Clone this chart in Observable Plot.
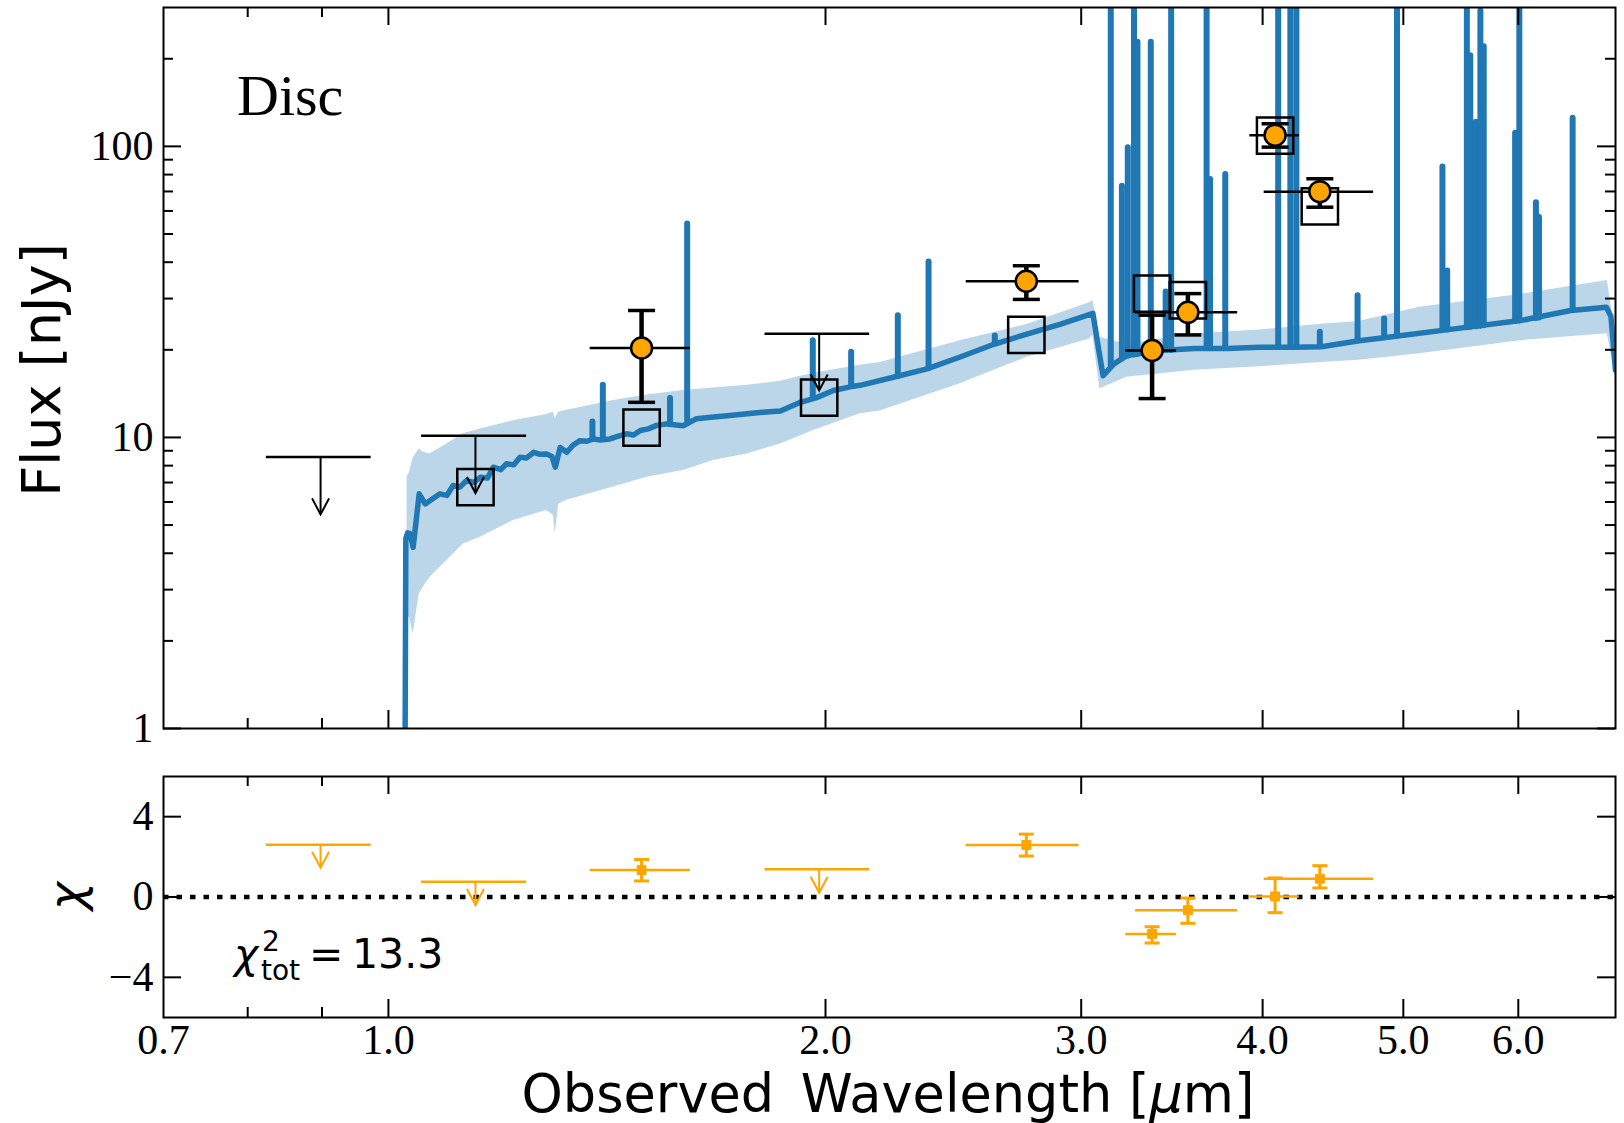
<!DOCTYPE html>
<html>
<head>
<meta charset="utf-8">
<script src="https://cdn.jsdelivr.net/npm/d3@7"></script>
<script src="https://cdn.jsdelivr.net/npm/@observablehq/plot@0.6"></script>
<style>
html, body { margin: 0; padding: 0; background: #fff; }
#wrap { position: relative; width: 1624px; height: 1123px; overflow: hidden; background: #fff; }
#wrap svg { position: absolute; left: 0; max-width: none !important; overflow: visible; }
</style>
</head>
<body>
<div id="wrap"></div>
<script>
// ---------------- DATA ----------------
const filters      = ["F090W", "F115W", "F150W", "F200W", "F277W", "F335M", "F356W", "F410M", "F444W"];
const filtWave     = [0.898, 1.148, 1.494, 1.98, 2.75, 3.357, 3.553, 4.08, 4.38];
const filtLo       = [0.824, 1.054, 1.377, 1.817, 2.50, 3.22, 3.27, 3.92, 4.01];
const filtHi       = [0.973, 1.245, 1.614, 2.145, 2.99, 3.49, 3.845, 4.24, 4.77];
const isUpperLimit = [true, true, false, true, false, false, false, false, false];
const obsFlux      = [8.56, 10.14, 20.3, 22.7, 34.4, 19.9, 26.9, 109.3, 69.9];
const obsFluxLo    = [null, null, 13.2, null, 29.8, 13.6, 22.5, 99.4, 61.8];
const obsFluxHi    = [null, null, 27.3, null, 38.9, 26.3, 31.2, 119.6, 77.4];
const ulArrowTip   = [5.44, 6.44, null, 14.5, null, null, null, null, null];
const modelFlux    = [null, 6.75, 10.8, 13.7, 22.5, 31.2, 29.6, 108.9, 62.2];
const chi          = [2.60, 0.76, 1.34, 1.38, 2.59, -1.84, -0.66, 0.03, 0.91];
const chiLo        = [null, null, 0.80, null, 2.04, -2.29, -1.31, -0.78, 0.45];
const chiHi        = [null, null, 1.87, null, 3.13, -1.48, -0.05, 0.95, 1.56];
const chiArrowTip  = [1.46, -0.40, null, 0.21, null, null, null, null, null];
const chi2tot = "13.3";

// model spectrum continuum [wavelength µm, flux nJy]
const modelSpectrum = [
  [1.026, 0.3], [1.028, 4.5], [1.031, 4.7], [1.035, 4.67], [1.040, 4.19], [1.050, 6.40],
  [1.060, 5.91], [1.085, 6.40], [1.097, 6.32], [1.108, 6.84], [1.120, 6.75], [1.132, 7.11],
  [1.145, 7.0], [1.157, 7.30], [1.170, 7.25], [1.181, 7.9], [1.195, 7.75], [1.206, 8.12],
  [1.220, 8.05], [1.232, 8.55], [1.245, 8.5], [1.259, 8.89], [1.272, 8.75], [1.285, 8.78],
  [1.296, 8.6], [1.303, 7.91], [1.313, 9.24], [1.327, 8.89], [1.340, 9.4], [1.355, 9.75],
  [1.370, 9.7], [1.384, 9.88], [1.400, 9.8], [1.421, 9.88], [1.440, 10.1], [1.459, 10.29],
  [1.475, 10.2], [1.491, 10.57], [1.510, 10.7], [1.530, 11.0], [1.555, 11.13], [1.596, 10.97],
  [1.630, 11.6], [1.674, 11.76], [1.719, 11.9], [1.766, 12.07], [1.810, 12.2], [1.862, 12.33],
  [1.922, 13.2], [1.972, 13.7], [2.025, 14.5], [2.091, 15.0], [2.113, 15.1], [2.227, 16.1],
  [2.349, 17.2], [2.476, 18.9], [2.612, 20.9], [2.756, 22.7], [2.904, 24.5], [3.056, 26.7],
  [3.085, 19.9], [3.106, 16.3], [3.16, 17.9], [3.225, 19.1], [3.40, 19.9], [3.59, 20.2],
  [3.78, 20.2], [3.98, 20.4], [4.19, 20.4], [4.39, 20.5], [4.66, 21.5], [4.88, 22.1],
  [5.42, 23.6], [6.02, 25.2], [6.52, 27.3], [6.90, 28.0], [6.95, 26.0], [7.0, 17.0]
];

// model uncertainty band [wavelength, low, high]
const modelBand = [
  [1.030, 2.4, 7.3], [1.034, 2.41, 7.6], [1.040, 2.11, 8.5], [1.050, 2.9, 9.12], [1.057, 3.06, 8.9],
  [1.068, 3.3, 8.78], [1.097, 3.78, 9.5], [1.126, 4.3, 10.29], [1.157, 4.54, 10.7], [1.219, 5.18, 11.4],
  [1.285, 5.61, 12.0], [1.299, 5.4, 12.2], [1.303, 4.67, 11.6], [1.310, 5.9, 12.2], [1.327, 6.08, 12.4],
  [1.429, 6.75, 13.4], [1.507, 7.3, 14.0], [1.596, 7.7, 14.5], [1.674, 8.34, 14.8], [1.766, 8.78, 15.1],
  [1.862, 9.5, 15.6], [1.910, 10.0, 16.1], [1.962, 10.57, 16.6], [2.113, 12.07, 17.7], [2.181, 12.33, 18.1],
  [2.476, 15.3, 21.5], [2.756, 18.9, 24.5], [3.04, 21.8, 29.0], [3.056, 22.5, 29.6], [3.09, 14.7, 22.1],
  [3.225, 16.1, 20.9], [3.59, 17.0, 22.7], [3.98, 17.5, 23.4], [4.39, 18.1, 24.5], [4.66, 18.4, 25.0],
  [5.13, 19.4, 28.0], [6.02, 21.5, 31.0], [6.91, 22.7, 34.6], [7.0, 16.1, 22.7]
];

// emission lines [wavelength, continuum base, peak]
const emissionLines = [
  [1.382, 9.9, 11.3], [1.405, 9.9, 15.1], [1.563, 11.1, 13.6], [1.606, 11.2, 54.1],
  [1.960, 13.6, 21.5], [2.083, 15.0, 19.6], [2.243, 16.2, 26.2], [2.355, 17.3, 40.1],
  [2.616, 21.0, 22.3], [3.144, 17.6, 1000], [3.200, 18.8, 73], [3.230, 19.0, 99],
  [3.262, 19.2, 1000], [3.280, 19.3, 228], [3.350, 19.6, 228], [3.430, 19.9, 31.6],
  [3.460, 19.9, 1000], [3.660, 20.2, 1000], [3.680, 20.2, 77], [3.770, 20.2, 80],
  [4.100, 20.4, 1000], [4.180, 20.4, 1000], [4.220, 20.4, 1000], [4.380, 20.8, 23.0],
  [4.650, 21.5, 30.7], [4.850, 22.0, 25.5], [4.950, 22.3, 1000], [5.320, 23.3, 85],
  [5.360, 23.4, 37.3], [5.530, 23.8, 1000], [5.560, 23.9, 205], [5.610, 24.0, 121],
  [5.650, 24.1, 292], [5.680, 24.2, 220], [5.970, 25.0, 111], [6.010, 25.1, 1000],
  [6.170, 25.6, 64], [6.200, 25.7, 57], [6.540, 27.3, 125]
];

// axis ticks
const xMajor = [1, 2, 3, 4, 5, 6];
const xMinor = [0.8, 0.9];
const xTickLabels = [0.7, 1, 2, 3, 4, 5, 6];
const yTopMajor = [1, 10, 100];
const yTopMinor = [2, 3, 4, 5, 6, 7, 8, 9, 20, 30, 40, 50, 60, 70, 80, 90, 200];
const yBotMajor = [-4, 0, 4];

// ---------------- build tables ----------------
const spec = modelSpectrum.map(([w, f]) => ({w, f}));
const band = modelBand.map(([w, lo, hi]) => ({w, lo, hi}));
const lines = emissionLines.map(([w, base, peak]) => ({w, base, peak}));
const phot = filters.map((name, i) => ({
  name, w: filtWave[i], lo: filtLo[i], hi: filtHi[i], ul: isUpperLimit[i],
  f: obsFlux[i], fLo: obsFluxLo[i], fHi: obsFluxHi[i], tip: ulArrowTip[i],
  m: modelFlux[i], chi: chi[i], chiLo: chiLo[i], chiHi: chiHi[i], chiTip: chiArrowTip[i]
}));
const det = phot.filter(d => !d.ul);
const ulim = phot.filter(d => d.ul);
const mod = phot.filter(d => d.m != null);

// ---------------- styles ----------------
const BLUE = "#1f77b4";
const ORANGE = "#ffa500";
const W = 1624;
const ML = 163, MR = 9;
const innerW = W - ML - MR;
const serif = "'Liberation Serif', 'Times New Roman', serif";
const sans = "'DejaVu Sans', sans-serif";

const vHead = {draw(ctx) { ctx.moveTo(-8.5, -16); ctx.lineTo(0, 0); ctx.lineTo(8.5, -16); }};
const capWide = {draw(ctx) { ctx.moveTo(-13.5, 0); ctx.lineTo(13.5, 0); }};
const capNarrow = {draw(ctx) { ctx.moveTo(-7.5, 0); ctx.lineTo(7.5, 0); }};

function tickMarks(innerH, yMajor, yMinor) {
  const t = {stroke: "black", strokeWidth: 2};
  const m = [
    Plot.tickX(xMajor, {x: d => d, insetTop: innerH - 18, ...t}),
    Plot.tickX(xMajor, {x: d => d, insetBottom: innerH - 18, ...t}),
    Plot.tickX(xMinor, {x: d => d, insetTop: innerH - 10, ...t}),
    Plot.tickX(xMinor, {x: d => d, insetBottom: innerH - 10, ...t}),
    Plot.tickY(yMajor, {y: d => d, insetRight: innerW - 18, ...t}),
    Plot.tickY(yMajor, {y: d => d, insetLeft: innerW - 18, ...t})
  ];
  if (yMinor) {
    m.push(Plot.tickY(yMinor, {y: d => d, insetRight: innerW - 10, ...t}));
    m.push(Plot.tickY(yMinor, {y: d => d, insetLeft: innerW - 10, ...t}));
  }
  return m;
}

// ---------------- top panel ----------------
const topH = 760, topMT = 7, topMB = 32;
const topPlot = Plot.plot({
  width: W, height: topH,
  marginLeft: ML, marginRight: MR, marginTop: topMT, marginBottom: topMB,
  x: {type: "log", domain: [0.7, 7.0], axis: null},
  y: {type: "log", domain: [1, 300], axis: null},
  style: {background: "white", fontFamily: serif},
  marks: [
    Plot.areaY(band, {x: "w", y1: "lo", y2: "hi", fill: BLUE, fillOpacity: 0.3, clip: true}),
    Plot.ruleX(lines, {x: "w", y1: "base", y2: "peak", stroke: BLUE, strokeWidth: 6, strokeLinecap: "round", clip: true}),
    Plot.line(spec, {x: "w", y: "f", stroke: BLUE, strokeWidth: 5.5, strokeLinejoin: "round", clip: true}),
    Plot.dot(mod, {x: "w", y: "m", symbol: "square", r: 20.5, fill: "none", stroke: "black", strokeWidth: 2.5}),
    // upper limits
    Plot.ruleY(ulim, {y: "f", x1: "lo", x2: "hi", stroke: "black", strokeWidth: 2.5}),
    Plot.ruleX(ulim, {x: "w", y1: "f", y2: "tip", stroke: "black", strokeWidth: 2}),
    Plot.dot(ulim, {x: "w", y: "tip", symbol: vHead, fill: "none", stroke: "black", strokeWidth: 2}),
    // detections
    Plot.ruleY(det, {y: "f", x1: "lo", x2: "hi", stroke: "black", strokeWidth: 2.5}),
    Plot.ruleX(det, {x: "w", y1: "fLo", y2: "fHi", stroke: "black", strokeWidth: 4.5}),
    Plot.dot(det, {x: "w", y: "fLo", symbol: capWide, fill: "none", stroke: "black", strokeWidth: 3.5}),
    Plot.dot(det, {x: "w", y: "fHi", symbol: capWide, fill: "none", stroke: "black", strokeWidth: 3.5}),
    Plot.dot(det, {x: "w", y: "f", r: 10.5, fill: ORANGE, stroke: "black", strokeWidth: 2.5}),
    ...tickMarks(topH - topMT - topMB, yTopMajor, yTopMinor),
    Plot.frame({stroke: "black", strokeWidth: 2}),
    Plot.axisY(yTopMajor, {tickSize: 0, tickPadding: 10, tickFormat: d => String(d), fontSize: 42, fontFamily: serif, label: null})
  ]
});
topPlot.style.top = "0px";

// ---------------- bottom panel ----------------
const botTop = 760, botH = 363, botMT = 16, botMB = 106;
const botPlot = Plot.plot({
  width: W, height: botH,
  marginLeft: ML, marginRight: MR, marginTop: botMT, marginBottom: botMB,
  x: {type: "log", domain: [0.7, 7.0], axis: null},
  y: {domain: [-6, 6], axis: null},
  style: {background: "transparent", fontFamily: serif},
  marks: [
    Plot.ruleY([0], {stroke: "black", strokeWidth: 4.5, strokeDasharray: "5.5,8"}),
    Plot.ruleY(ulim, {y: "chi", x1: "lo", x2: "hi", stroke: ORANGE, strokeWidth: 2.5}),
    Plot.ruleX(ulim, {x: "w", y1: "chi", y2: "chiTip", stroke: ORANGE, strokeWidth: 2}),
    Plot.dot(ulim, {x: "w", y: "chiTip", symbol: vHead, fill: "none", stroke: ORANGE, strokeWidth: 2}),
    Plot.ruleY(det, {y: "chi", x1: "lo", x2: "hi", stroke: ORANGE, strokeWidth: 2.5}),
    Plot.ruleX(det, {x: "w", y1: "chiLo", y2: "chiHi", stroke: ORANGE, strokeWidth: 3}),
    Plot.dot(det, {x: "w", y: "chiLo", symbol: capNarrow, fill: "none", stroke: ORANGE, strokeWidth: 3}),
    Plot.dot(det, {x: "w", y: "chiHi", symbol: capNarrow, fill: "none", stroke: ORANGE, strokeWidth: 3}),
    Plot.dot(det, {x: "w", y: "chi", symbol: "square", r: 5, fill: ORANGE, stroke: ORANGE, strokeWidth: 1}),
    ...tickMarks(botH - botMT - botMB, yBotMajor, null),
    Plot.frame({stroke: "black", strokeWidth: 2}),
    Plot.axisY(yBotMajor, {tickSize: 0, tickPadding: 10, tickFormat: d => d < 0 ? "\u2212" + Math.abs(d) : String(d), fontSize: 42, fontFamily: serif, label: null}),
    Plot.axisX(xTickLabels, {tickSize: 0, tickPadding: 7, tickFormat: d => d.toFixed(1), fontSize: 42, fontFamily: serif, label: null})
  ]
});
botPlot.style.top = botTop + "px";

const wrap = document.getElementById("wrap");
wrap.appendChild(topPlot);
wrap.appendChild(botPlot);

// ---------------- text annotations ----------------
const ts = d3.select(topPlot);
ts.append("text").attr("x", 237).attr("y", 115).attr("text-anchor", "start")
  .attr("font-family", serif).attr("font-size", 58).attr("fill", "black").text("Disc");
ts.append("text").attr("transform", "translate(60,370) rotate(-90)")
  .attr("text-anchor", "middle").attr("font-family", sans).attr("font-size", 54).attr("fill", "black")
  .text("Flux [nJy]");

const bs = d3.select(botPlot);
const oy = botTop; // convert page y to bottom-svg y
bs.append("text").attr("transform", `translate(83,${896 - oy}) rotate(-90)`)
  .attr("text-anchor", "middle").attr("font-family", sans).attr("font-style", "italic")
  .attr("font-size", 48).attr("fill", "black").text("χ");
const chiT = bs.append("g").attr("font-family", sans).attr("fill", "black").attr("text-anchor", "start");
chiT.append("text").attr("x", 234).attr("y", 968 - oy).attr("font-size", 41).attr("font-style", "italic").text("χ");
chiT.append("text").attr("x", 262).attr("y", 950.5 - oy).attr("font-size", 28).text("2");
chiT.append("text").attr("x", 261).attr("y", 980 - oy).attr("font-size", 28).text("tot");
chiT.append("text").attr("x", 309).attr("y", 968 - oy).attr("font-size", 41).text("=");
chiT.append("text").attr("x", 352).attr("y", 968 - oy).attr("font-size", 41).text(chi2tot);

const xl = bs.append("text").attr("x", 888).attr("y", 1111.5 - oy).attr("text-anchor", "middle")
  .attr("font-family", sans).attr("font-size", 52.5).attr("fill", "black");
xl.append("tspan").text("Observed");
xl.append("tspan").attr("dx", 10).text(" Wavelength [");
xl.append("tspan").attr("font-style", "italic").text("μ");
xl.append("tspan").text("m]");
</script>
</body>
</html>
